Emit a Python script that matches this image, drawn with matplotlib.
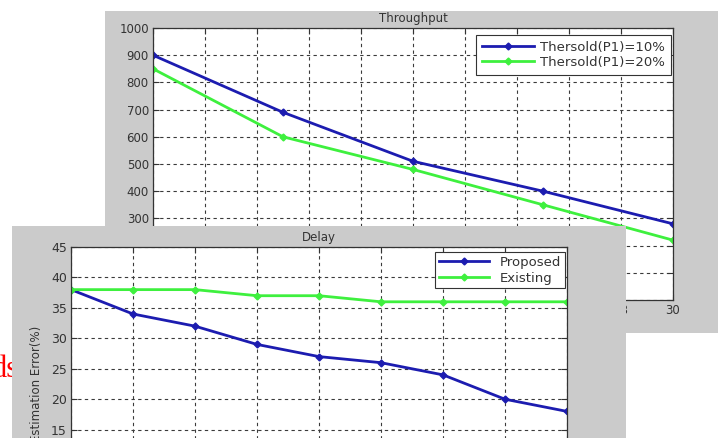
import matplotlib
matplotlib.use("Agg")
import matplotlib.pyplot as plt
from matplotlib.patches import Rectangle

# ---- data ----
thr_x = [10, 15, 20, 25, 30]
thr_p10 = [900, 690, 510, 400, 280]
thr_p20 = [850, 600, 480, 350, 220]
thr_xticks = list(range(10, 31, 2))
thr_yticks = list(range(0, 1001, 100))
thr_labels = ["Thersold(P1)=10%", "Thersold(P1)=20%"]

dly_x = [1, 2, 3, 4, 5, 6, 7, 8, 9]
dly_proposed = [38, 34, 32, 29, 27, 26, 24, 20, 18]
dly_existing = [38, 38, 38, 37, 37, 36, 36, 36, 36]
dly_yticks = list(range(0, 46, 5))
dly_labels = ["Proposed", "Existing"]

W, H = 724, 438
fig = plt.figure(figsize=(W / 100, H / 100), dpi=100)
fig.patch.set_facecolor("white")

def fx(px):
    return px / W

def fy(py):
    return 1 - py / H

BLUE = "#1c1cb0"
GREEN = "#3ef03e"
PANEL = "#cbcbcb"
TXT = "#333333"
plt.rcParams["font.family"] = ["DejaVu Sans"]

def style_axes(ax, fs):
    ax.set_facecolor("white")
    ax.grid(True, color="#3a3a3a", linestyle=(0, (3, 3)), linewidth=0.8)
    ax.set_axisbelow(True)
    ax.tick_params(direction="in", length=4, top=True, right=True,
                   labelsize=fs, labelcolor=TXT, color="#333333", pad=3)
    for s in ax.spines.values():
        s.set_color("#333333")
        s.set_linewidth(0.9)

# ---- top panel ----
fig.patches.append(Rectangle((fx(105), fy(333)), fx(718) - fx(105), fy(11) - fy(333),
                             transform=fig.transFigure, facecolor=PANEL,
                             edgecolor="none", zorder=0.1))

ax1 = fig.add_axes([fx(153), fy(300), fx(673) - fx(153), fy(28) - fy(300)])
ax1.set_zorder(0.2)
ax1.plot(thr_x, thr_p10, color=BLUE, lw=2, marker="D", ms=3.5, label=thr_labels[0])
ax1.plot(thr_x, thr_p20, color=GREEN, lw=2, marker="D", ms=3.5, label=thr_labels[1])
ax1.set_xlim(10, 30)
ax1.set_ylim(0, 1000)
ax1.set_xticks(thr_xticks)
ax1.set_yticks(thr_yticks)
style_axes(ax1, 8.5)
ax1.set_title("Throughput", fontsize=8.5, color=TXT, pad=4)
leg1 = ax1.legend(loc="upper right", bbox_to_anchor=(0.996, 0.974), borderaxespad=0,
                  fontsize=9.5, handlelength=3.9, handletextpad=0.5,
                  fancybox=False, framealpha=1,
                  edgecolor="#333333", labelspacing=0.15, borderpad=0.45)
leg1.get_frame().set_linewidth(0.8)
for t in leg1.get_texts():
    t.set_color(TXT)

# ---- red background text fragment ----
fig.text(fx(-8), fy(377), "ds", color="red", fontsize=22,
         family=["Liberation Serif"], zorder=0.3, ha="left", va="baseline")

# ---- bottom panel ----
fig.patches.append(Rectangle((fx(12), fy(500)), fx(626) - fx(12), fy(226) - fy(500),
                             transform=fig.transFigure, facecolor=PANEL,
                             edgecolor="none", zorder=0.4))

ax2 = fig.add_axes([fx(71), fy(521), fx(567) - fx(71), fy(247) - fy(521)])
ax2.set_zorder(0.5)
ax2.plot(dly_x, dly_proposed, color=BLUE, lw=2, marker="D", ms=3.5, label=dly_labels[0])
ax2.plot(dly_x, dly_existing, color=GREEN, lw=2, marker="D", ms=3.5, label=dly_labels[1])
ax2.set_xlim(1, 9)
ax2.set_ylim(0, 45)
ax2.set_xticks(dly_x)
ax2.set_yticks(dly_yticks)
style_axes(ax2, 9)
ax2.set_title("Delay", fontsize=8.5, color=TXT, pad=4)
ax2.set_ylabel("Estimation Error(%)", fontsize=8.5, color=TXT, labelpad=6)
leg2 = ax2.legend(loc="upper right", bbox_to_anchor=(0.996, 0.982), borderaxespad=0,
                  fontsize=9.5, handlelength=3.8, fancybox=False, framealpha=1,
                  edgecolor="#333333", labelspacing=0.2, borderpad=0.3)
leg2.get_frame().set_linewidth(0.8)
for t in leg2.get_texts():
    t.set_color(TXT)

fig.savefig("out.png", dpi=100)
